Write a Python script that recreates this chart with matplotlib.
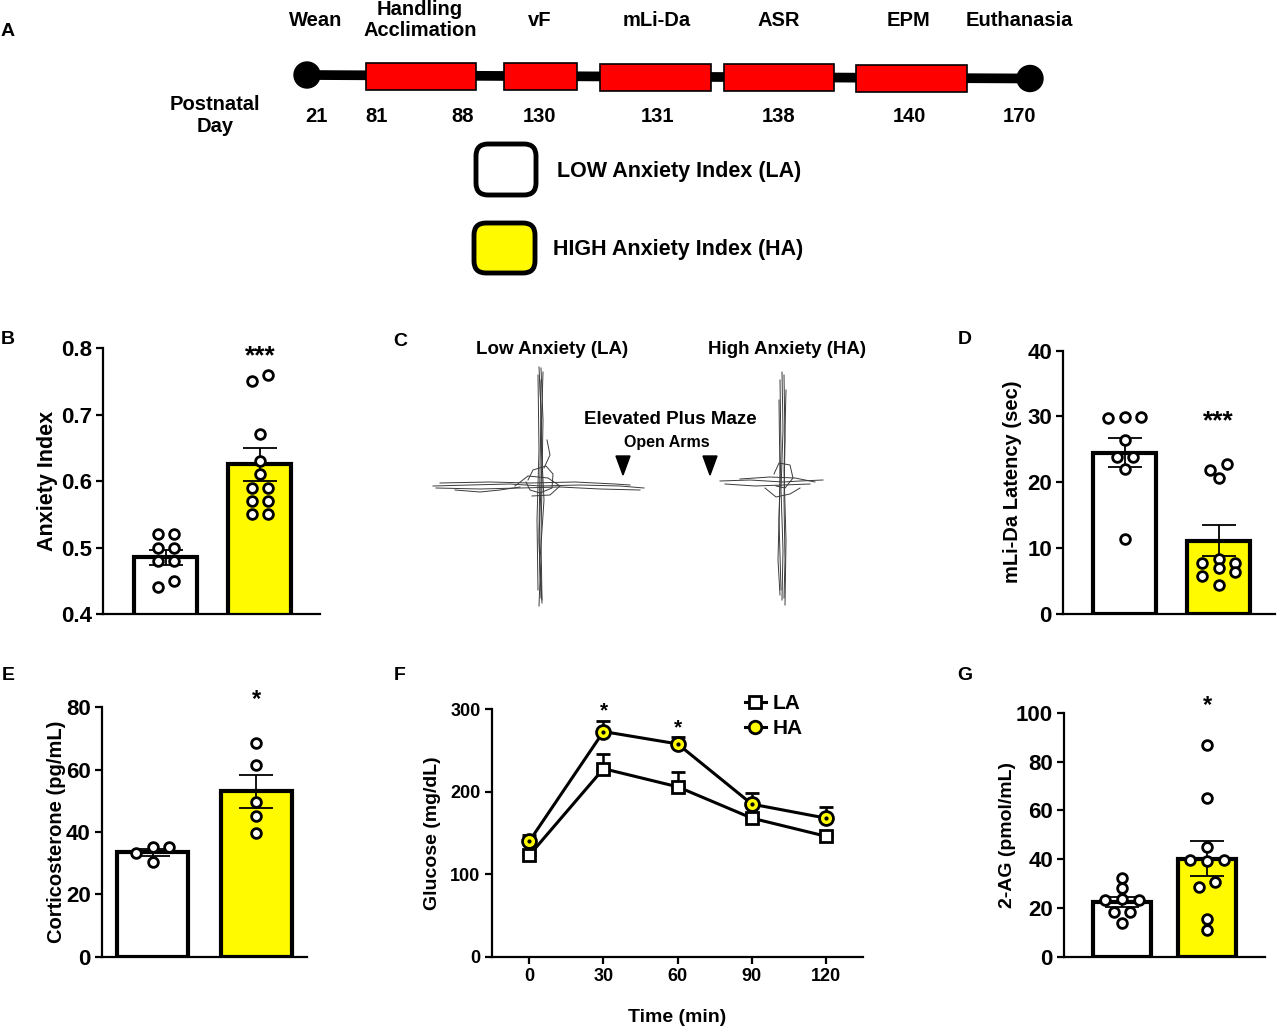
import numpy as np
import matplotlib
matplotlib.use('Agg')
import matplotlib.pyplot as plt
from matplotlib.patches import Rectangle, Circle, FancyBboxPatch, Polygon
from matplotlib.lines import Line2D

plt.rcParams['font.family'] = ['Liberation Sans', 'DejaVu Sans']
plt.rcParams['font.weight'] = 'bold'
plt.rcParams['axes.labelweight'] = 'bold'

YELLOW = '#fffa00'
RED = '#ff0000'

# ---- data ----
# A: timeline
stage_names = ['Wean', 'Handling\nAcclimation', 'vF', 'mLi-Da', 'ASR', 'EPM', 'Euthanasia']
day_labels = ['21', '81', '88', '130', '131', '138', '140', '170']

# B: anxiety index
b_means = [0.485, 0.625]
b_sems = [0.011, 0.025]
b_la = [0.52, 0.52, 0.50, 0.50, 0.48, 0.48, 0.45, 0.44]
b_ha = [0.76, 0.75, 0.67, 0.63, 0.61, 0.59, 0.59, 0.57, 0.57, 0.55, 0.55]

# D: mLi-Da latency
d_means = [24.5, 11.1]
d_sems = [2.2, 2.4]
d_la = [29.7, 29.9, 29.9, 26.4, 23.8, 23.9, 22.0, 11.3]
d_ha = [22.8, 21.8, 20.7, 8.3, 7.7, 7.7, 7.0, 6.3, 5.7, 4.3]

# E: corticosterone
e_means = [33.5, 53.0]
e_sems = [1.1, 5.3]
e_la = [33.4, 35.3, 35.1, 30.5]
e_ha = [68.7, 61.6, 49.5, 45.2, 39.8]

# F: glucose tolerance
time_min = [0, 30, 60, 90, 120]
glu_la = [123, 228, 206, 168, 146]
glu_la_sem = [4, 18, 18, 6, 4]
glu_ha = [140, 273, 258, 185, 168]
glu_ha_sem = [8, 13, 9, 13, 13]

# G: 2-AG
g_means = [22.4, 40.2]
g_sems = [2.2, 7.1]
g_la = [32.4, 28.3, 23.2, 23.5, 23.2, 18.4, 18.4, 13.9]
g_ha = [86.7, 65.2, 45.1, 39.6, 39.6, 39.2, 30.5, 28.7, 15.3, 10.9]

# scatter column offsets (layout only)
b_off = ([-1, 1, -1, 1, -1, 1, 1, -1], [1, -1, 0, 0, 0, -1, 1, -1, 1, -1, 1])
d_off = ([-2, 0, 2, 0, -1, 1, 0, 0], [1, -1, 0, 0, -2, 2, 0, 2, -2, 0])
e_off = ([-2, 0, 2, 0], [0, 0, 0, 0, 0])
g_off = ([0, 0, -2, 0, 2, -1, 1, 0], [0, 0, 0, -2, 2, 0, 1, -1, 0, 0])

W, H = 1280, 1029
fig = plt.figure(figsize=(12.8, 10.29), dpi=100)

ov = fig.add_axes([0, 0, 1, 1])
ov.set_xlim(0, W)
ov.set_ylim(H, 0)
ov.axis('off')


def px_axes(l, r, b, t):
    a = fig.add_axes([l / W, 1 - b / H, (r - l) / W, (b - t) / H])
    a.set_facecolor('none')
    return a


def style(ax, tick_fs):
    for s in ['top', 'right']:
        ax.spines[s].set_visible(False)
    for s in ['left', 'bottom']:
        ax.spines[s].set_linewidth(1.6)
    ax.tick_params(axis='y', width=1.6, length=5, labelsize=tick_fs, pad=3)
    for t in ax.get_yticklabels() + ax.get_xticklabels():
        t.set_fontweight('bold')


def stars(ax, x, y, s, fs):
    ax.annotate(s, xy=(x, y), xytext=(0, -0.58 * fs), textcoords='offset points',
                ha='center', va='baseline', fontsize=fs, annotation_clip=False)


def bar_panel(box, xlim, width, step, means, sems, la, ha, offs, ylim, yticks,
              ylabel, label_px, label_fs, star, star_y, star_fs):
    l, r, b, t = box
    ax = px_axes(l, r, b, t)
    ax.bar([0, 1], means, width, color=['white', YELLOW], edgecolor='black',
           linewidth=3, zorder=2)
    ax.errorbar([0, 1], means, yerr=sems, fmt='none', ecolor='black',
                elinewidth=1.3, capsize=12, capthick=1.3, zorder=3)
    for i, vals in enumerate([la, ha]):
        xs = i + np.array(offs[i]) * step
        ax.plot(xs, vals, 'o', ms=7, mfc='white', mec='black', mew=2, zorder=4,
                clip_on=False)
    ax.set_xlim(*xlim)
    ax.set_ylim(*ylim)
    ax.set_yticks(yticks)
    ax.set_xticks([])
    style(ax, 16)
    ax.set_ylabel(ylabel, fontsize=label_fs, va='center')
    ax.yaxis.set_label_coords((label_px - l) / (r - l), 0.5)
    stars(ax, 1, star_y, star, star_fs)
    return ax


# ---- panel A ----
ov.plot([307, 1030], [75, 78.5], color='black', lw=7, solid_capstyle='butt', zorder=1)
ov.add_patch(Circle((307, 75), 13, color='black', zorder=3))
ov.add_patch(Circle((1030, 78.5), 13, color='black', zorder=3))
box_spans = [(366, 476), (504, 577), (600, 711), (724, 834), (856, 967)]
for x0, x1 in box_spans:
    yc = 75 + 3.5 * (0.5 * (x0 + x1) - 307) / 723
    ov.add_patch(Rectangle((x0, yc - 13), x1 - x0, 27, fc=RED, ec='black', lw=1.2, zorder=2))
stage_x = [316, 420, 540, 657, 779, 909, 1019]
for name, x in zip(stage_names, stage_x):
    ov.text(x, 20, name, ha='center', va='center', fontsize=14.5, linespacing=1.15)
day_x = [316, 377, 463, 540, 657, 779, 909, 1019]
for d, x in zip(day_labels, day_x):
    ov.text(x, 116, d, ha='center', va='center', fontsize=14.5)
ov.text(215, 116, 'Postnatal\nDay', ha='center', va='center', fontsize=14.5, linespacing=1.2)

ov.add_patch(FancyBboxPatch((476, 144), 60, 51, boxstyle='round,pad=0,rounding_size=12',
                            fc='white', ec='black', lw=3.5))
ov.add_patch(FancyBboxPatch((474, 223), 61, 50, boxstyle='round,pad=0,rounding_size=12',
                            fc=YELLOW, ec='black', lw=3.5))
ov.text(557, 172, 'LOW Anxiety Index (LA)', ha='left', va='center', fontsize=15.5)
ov.text(553, 250, 'HIGH Anxiety Index (HA)', ha='left', va='center', fontsize=15.5)

# ---- panel C (EPM tracks) ----
la_paths = [
    [(539, 367), (541, 410), (540, 470), (539, 530), (540, 580), (539, 606)],
    [(541, 368), (543, 420), (542, 480), (541, 540), (542, 600)],
    [(543, 372), (541, 440), (544, 500), (540, 560), (542, 603)],
    [(538, 375), (539, 450), (537, 520), (538, 590)],
    [(540, 380), (542, 460), (539, 540), (541, 598)],
    [(433, 486), (470, 485), (510, 484), (541, 486), (580, 485), (620, 486), (644, 488)],
    [(436, 488), (480, 489), (520, 488), (560, 487), (600, 489), (640, 490)],
    [(440, 483), (490, 482), (530, 483), (575, 482), (615, 484), (630, 485)],
    [(528, 480), (533, 470), (546, 466), (553, 474), (552, 488), (540, 493), (530, 490), (526, 482)],
    [(515, 486), (528, 476), (548, 478), (560, 486), (550, 495), (532, 496)],
    [(544, 468), (550, 455), (547, 440)],
    [(455, 490), (480, 492), (500, 490), (520, 487)],
]
ha_paths = [
    [(782, 372), (783, 430), (781, 490), (783, 550), (782, 600)],
    [(784, 375), (785, 440), (784, 500), (785, 560), (784, 598)],
    [(780, 380), (781, 450), (779, 520), (781, 590)],
    [(786, 390), (784, 470), (786, 540), (785, 605)],
    [(779, 400), (780, 480), (778, 560), (780, 595)],
    [(720, 481), (750, 480), (783, 482), (800, 481), (823, 480)],
    [(725, 484), (755, 486), (783, 485), (810, 484)],
    [(740, 479), (770, 477), (795, 478), (815, 482)],
    [(774, 474), (779, 463), (790, 465), (793, 478), (785, 488), (776, 486)],
    [(765, 488), (776, 497), (790, 494), (800, 488)],
]
for p in la_paths + ha_paths:
    xs, ys = zip(*p)
    ov.plot(xs, ys, color='#3a3a3a', lw=0.7)
for ax_x in [623, 710]:
    ov.add_patch(Polygon([(ax_x - 7, 456), (ax_x + 7, 456), (ax_x, 475)], color='black'))
ov.text(552, 349, 'Low Anxiety (LA)', ha='center', va='center', fontsize=13.5)
ov.text(787, 349, 'High Anxiety (HA)', ha='center', va='center', fontsize=13.5)
ov.text(670, 420, 'Elevated Plus Maze', ha='center', va='center', fontsize=13.5)
ov.text(667, 442, 'Open Arms', ha='center', va='center', fontsize=11.5)

# panel letters
for lab, x, y in [('A', 8, 32), ('B', 8, 340), ('C', 400, 342), ('D', 965, 340),
                  ('E', 8, 676), ('F', 400, 676), ('G', 965, 676)]:
    ov.text(x, y, lab, ha='center', va='center', fontsize=14)

# ---- bar panels ----
bar_panel((103, 320, 614, 348), (-0.67, 1.64), 0.67, 0.088, b_means, b_sems, b_la, b_ha,
          b_off, (0.4, 0.8), [0.4, 0.5, 0.6, 0.7, 0.8], 'Anxiety Index', 48, 15.5, '***', 0.8, 19)
bar_panel((1063, 1275, 613.7, 350.7), (-0.66, 1.6), 0.67, 0.088, d_means, d_sems, d_la, d_ha,
          d_off, (0, 40), [0, 10, 20, 30, 40], 'mLi-Da Latency (sec)', 1013, 14.5, '***', 30.5, 19)
bar_panel((101.7, 307, 956.7, 707.3), (-0.49, 1.49), 0.686, 0.08, e_means, e_sems, e_la, e_ha,
          e_off, (0, 80), [0, 20, 40, 60, 80], 'Corticosterone (pg/mL)', 57, 14.5, '*', 84.9, 17)
bar_panel((1064, 1265, 956.7, 712.7), (-0.68, 1.68), 0.69, 0.098, g_means, g_sems, g_la, g_ha,
          g_off, (0, 100), [0, 20, 40, 60, 80, 100], '2-AG (pmol/mL)', 1008, 14, '*', 106, 17)

# ---- panel F ----
l, r, b, t = 491.7, 862.7, 956.7, 709.3
axf = px_axes(l, r, b, t)
axf.errorbar(time_min, glu_la, yerr=[np.zeros(5), glu_la_sem], fmt='-s', color='black',
             lw=2.2, ms=9, mfc='white', mec='black', mew=2, capsize=5, capthick=1.8,
             elinewidth=1.8, zorder=3)
axf.errorbar(time_min, glu_ha, yerr=[np.zeros(5), glu_ha_sem], fmt='-o', color='black',
             lw=2.2, ms=10, mfc=YELLOW, mec='black', mew=2, capsize=5, capthick=1.8,
             elinewidth=1.8, zorder=4)
axf.plot(time_min, glu_ha, 'o', ms=2, color='black', zorder=5)
axf.set_xlim(-15.2, 134.8)
axf.set_ylim(0, 300)
axf.set_xticks(time_min)
axf.set_yticks([0, 100, 200, 300])
style(axf, 13)
axf.tick_params(axis='x', width=1.6, length=5, labelsize=13, pad=3)
axf.set_ylabel('Glucose (mg/dL)', fontsize=14, va='center')
axf.yaxis.set_label_coords((432 - l) / (r - l), 0.5)
axf.set_xlabel('Time (min)', fontsize=14, va='center')
axf.xaxis.set_label_coords(0.5, (b - 1018) / (b - t))
stars(axf, 30, 306, '*', 15)
stars(axf, 60, 285, '*', 15)
la_leg = Line2D([], [], color='black', lw=2.2, marker='s', ms=8, mfc='white', mec='black', mew=2)
ha_leg = Line2D([], [], color='black', lw=2.2, marker='o', ms=9, mfc=YELLOW, mec='black', mew=2)
leg = axf.legend(handles=[la_leg, ha_leg], labels=['LA', 'HA'], loc='upper left',
                 bbox_to_anchor=((745 - l) / (r - l), (b - 694) / (b - t)),
                 frameon=False, fontsize=15, handlelength=1.0, handletextpad=0.35,
                 labelspacing=0.3, borderpad=0, borderaxespad=0)
for tx in leg.get_texts():
    tx.set_fontweight('bold')

fig.savefig('out.png', dpi=100)
